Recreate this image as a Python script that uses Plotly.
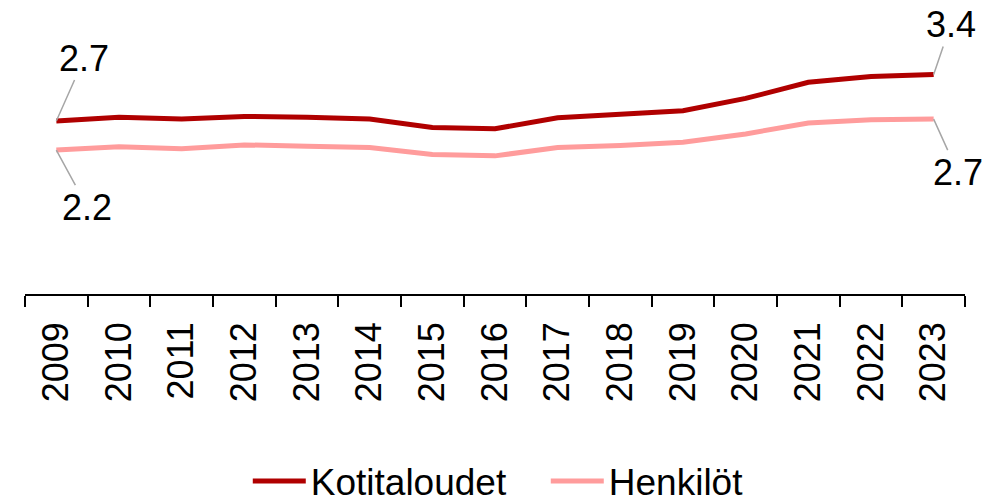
import plotly.graph_objects as go

years = [str(y) for y in range(2009, 2024)]
kotitaloudet = [2.68, 2.74, 2.71, 2.75, 2.74, 2.71, 2.58, 2.56, 2.73, 2.78, 2.84, 3.03, 3.28, 3.37, 3.40]
henkilot = [2.23, 2.28, 2.25, 2.31, 2.29, 2.27, 2.16, 2.14, 2.27, 2.30, 2.35, 2.48, 2.65, 2.70, 2.71]

series_names = ["Kotitaloudet", "Henkilöt"]
colors = ["#b00000", "#ff9c9c"]

FONT = "Liberation Sans, Arial, sans-serif"

fig = go.Figure()
for name, vals, col in zip(series_names, [kotitaloudet, henkilot], colors):
    fig.add_trace(go.Scatter(x=years, y=vals, mode="lines", name=name,
                             line=dict(color=col, width=5)))

# label offsets (pixels) for first/last points; x given as category index
last = len(years) - 1
label_specs = [
    (kotitaloudet, 0, 28, -63),
    (henkilot, 0, 31, 57),
    (kotitaloudet, last, 17, -50),
    (henkilot, last, 24, 53),
]
for vals, idx, ax, ay in label_specs:
    fig.add_annotation(x=idx, y=vals[idx], xref="x", yref="y",
                       text=f"{vals[idx]:.1f}",
                       showarrow=True, arrowhead=0, arrowwidth=1.5,
                       arrowcolor="#a6a6a6", ax=ax, ay=ay,
                       font=dict(size=36, color="black", family=FONT))

fig.update_layout(
    width=1002, height=503,
    margin=dict(l=25, r=37, t=10, b=209, autoexpand=False),
    paper_bgcolor="white", plot_bgcolor="white",
    font=dict(family=FONT, size=36, color="black"),
    showlegend=True,
    legend=dict(orientation="h", x=0.237, xanchor="left", y=-0.66, yanchor="middle",
                font=dict(size=37, family=FONT), tracegroupgap=0,
                itemwidth=53, entrywidth=230, entrywidthmode="pixels"),
    xaxis=dict(type="category", range=[-0.5, 14.5], showgrid=False,
               showline=True, linecolor="black", linewidth=1.5,
               ticks="outside", tickson="boundaries", ticklen=11,
               tickcolor="black", tickwidth=1.5, tickangle=-90,
               ticklabelstandoff=12, automargin=False,
               tickfont=dict(size=36, family=FONT)),
    yaxis=dict(range=[0, 4.4], showgrid=False, zeroline=False, showline=False,
               showticklabels=False, ticks="", automargin=False),
)

fig.write_html("out.html", config={"displayModeBar": False},
               post_script="document.body.style.margin='0';document.body.style.overflow='hidden';")
